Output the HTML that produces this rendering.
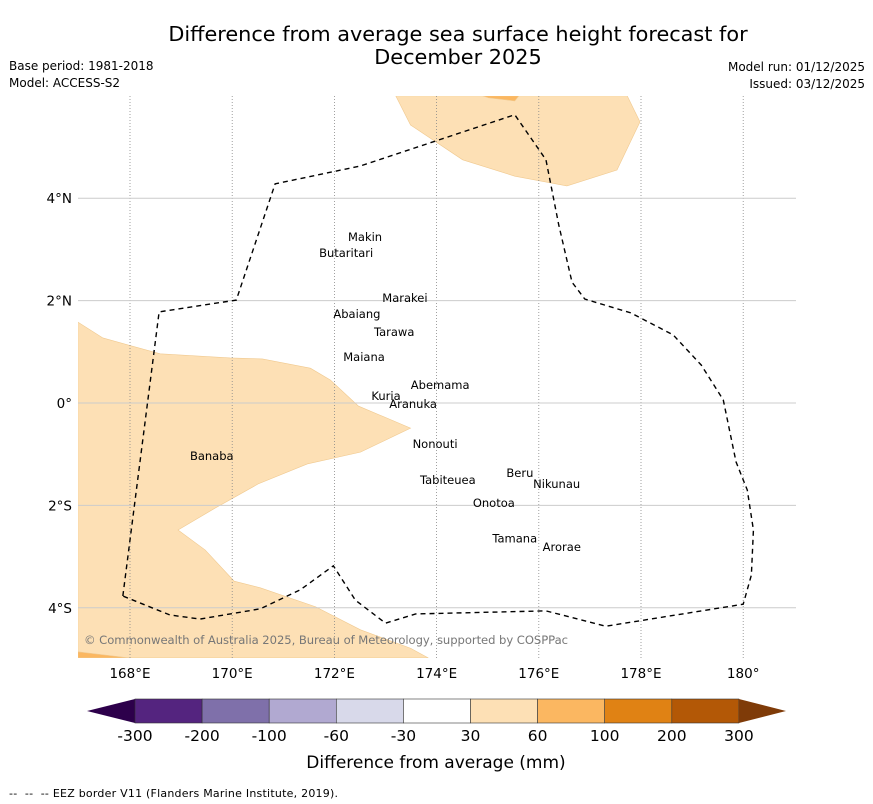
<!DOCTYPE html>
<html><head><meta charset="utf-8"><style>
body{margin:0;background:#fff;width:873px;height:804px;overflow:hidden;font-family:"DejaVu Sans","Liberation Sans",sans-serif}
</style></head><body>
<svg id="c" width="873" height="804" style="position:absolute;left:0;top:0">
<text x="458" y="41" font-size="20.8" text-anchor="middle">Difference from average sea surface height forecast for</text>
<text x="458" y="64" font-size="20.8" text-anchor="middle">December 2025</text>
<text x="9" y="70" font-size="12">Base period: 1981-2018</text>
<text x="9" y="87" font-size="12">Model: ACCESS-S2</text>
<text x="865" y="71" font-size="12" text-anchor="end">Model run: 01/12/2025</text>
<text x="865" y="88" font-size="12" text-anchor="end">Issued: 03/12/2025</text>
<g id="map"></g>
<g id="cbar"></g>
<text x="436" y="768" font-size="17" text-anchor="middle">Difference from average (mm)</text>
<text x="9" y="797" font-size="11" xml:space="preserve" textLength="329">--  --  -- EEZ border V11 (Flanders Marine Institute, 2019).</text>
</svg>
<script>
const lonTicks=[168,170,172,174,176,178,180];
const lonLabels=["168°E","170°E","172°E","174°E","176°E","178°E","180°"];
const latTicks=[4,2,0,-2,-4];
const latLabels=["4°N","2°N","0°","2°S","4°S"];
const eezLon=[167.86,168.57,170.08,170.84,172.51,175.53,176.14,176.39,176.65,176.90,177.80,178.63,179.18,179.61,179.86,180.08,180.20,180.16,180.0,177.31,176.14,173.59,173.0,172.41,171.98,171.33,170.55,169.37,168.78,167.86];
const eezLat=[-3.77,1.78,2.01,4.28,4.63,5.63,4.75,3.48,2.36,2.03,1.76,1.33,0.74,0.06,-1.15,-1.70,-2.48,-3.36,-3.93,-4.36,-4.06,-4.12,-4.30,-3.85,-3.18,-3.65,-4.02,-4.22,-4.14,-3.77];
const westLon=[166.98,167.47,168.59,169.96,170.59,171.53,171.92,172.47,173.49,172.51,171.47,170.51,169.67,168.94,169.47,170.04,170.55,171.63,172.51,173.49,173.84,166.98];
const westLat=[1.58,1.27,0.96,0.88,0.86,0.68,0.45,-0.06,-0.49,-0.96,-1.19,-1.58,-2.05,-2.48,-2.87,-3.48,-3.61,-3.98,-4.43,-4.79,-4.98,-4.98];
const northLon=[173.2,173.49,174.51,175.53,176.55,177.53,177.98,177.73];
const northLat=[6.0,5.43,4.75,4.43,4.24,4.55,5.49,6.0];
const north2Lon=[174.9,175.02,175.53,175.61];
const north2Lat=[6.0,5.96,5.90,6.0];
const swLon=[166.98,168.0,166.98];
const swLat=[-4.86,-4.98,-4.98];
const islandNames=["Makin","Butaritari","Marakei","Abaiang","Tarawa","Maiana","Abemama","Kuria","Aranuka","Nonouti","Beru","Nikunau","Tabiteuea","Onotoa","Tamana","Arorae","Banaba"];
const islandLon=[172.60,172.23,173.38,172.44,173.17,172.58,174.07,173.01,173.54,173.97,175.63,176.35,174.22,175.12,175.53,176.45,169.60];
const islandLat=[3.16,2.85,1.97,1.66,1.31,0.82,0.27,0.06,-0.10,-0.88,-1.45,-1.66,-1.58,-2.03,-2.72,-2.89,-1.11];
const cbLabels=["-300","-200","-100","-60","-30","30","60","100","200","300"];
const cbColors=["#54247f","#7f70aa","#b1a9d1","#d8d9ea","#ffffff","#fde0b5","#fbb761","#e08214","#b35806"];
const NS="http://www.w3.org/2000/svg";
const X0=78,X1=796,Y0=96,Y1=658;
const xs=lon=>130+(lon-168)*51.1;
const ys=lat=>403-lat*51.2;
function mk(tag,attrs,parent){const e=document.createElementNS(NS,tag);for(const k in attrs)e.setAttribute(k,attrs[k]);parent.appendChild(e);return e;}
const map=document.getElementById('map');
const defs=mk('defs',{},map);
const cp=mk('clipPath',{id:'clip'},defs);
mk('rect',{x:X0,y:Y0,width:X1-X0,height:Y1-Y0},cp);
const g=mk('g',{'clip-path':'url(#clip)'},map);
function poly(lo,la,fill,name){const p=mk('polygon',{points:lo.map((v,i)=>xs(v)+','+ys(la[i])).join(' '),fill:fill,stroke:'#f0c98f','stroke-width':0.6},g);

}
poly(westLon,westLat,'#fde0b5','anomaly-region-west');
poly(northLon,northLat,'#fde0b5','anomaly-region-north');
poly(north2Lon,north2Lat,'#fbb761','anomaly-region-north-strong');
poly(swLon,swLat,'#fbb761','anomaly-region-southwest');
lonTicks.forEach((t,i)=>{const l=mk('line',{x1:xs(t),x2:xs(t),y1:Y0,y2:Y1,stroke:'#888','stroke-width':0.8,'stroke-dasharray':'1,2'},g);


const tx=mk('text',{x:xs(t),y:678,'font-size':13.5,'text-anchor':'middle'},map);tx.textContent=lonLabels[i];

});
latTicks.forEach((t,i)=>{const l=mk('line',{x1:X0,x2:X1,y1:ys(t),y2:ys(t),stroke:'#ccc','stroke-width':1},g);


const tx=mk('text',{x:72,y:ys(t)+5,'font-size':13.5,'text-anchor':'end'},map);tx.textContent=latLabels[i];

});
const eez=mk('polyline',{points:eezLon.map((v,i)=>xs(v)+','+ys(eezLat[i])).join(' '),fill:'none',stroke:'#000','stroke-width':1.4,'stroke-dasharray':'5,4'},g);


islandNames.forEach((n,i)=>{const t=mk('text',{x:xs(islandLon[i]),y:ys(islandLat[i]),'font-size':11.5,'text-anchor':'middle'},g);t.textContent=n;

});
const cr=mk('text',{x:84,y:644,'font-size':11.6,fill:'#777',textLength:484},g);cr.textContent="© Commonwealth of Australia 2025, Bureau of Meteorology, supported by COSPPac";


const cb=document.getElementById('cbar');
const CB0=135,CBW=67.1,CY=699,CH=24;
const lt=mk('polygon',{points:`87,${CY+CH/2} ${CB0},${CY} ${CB0},${CY+CH}`,fill:'#2d004b'},cb);


cbColors.forEach((c,i)=>{const r=mk('rect',{x:CB0+i*CBW,y:CY,width:CBW,height:CH,fill:c,stroke:'#333','stroke-width':0.6},cb);

});
const CE=CB0+9*CBW;
const rt=mk('polygon',{points:`${CE},${CY} 786,${CY+CH/2} ${CE},${CY+CH}`,fill:'#7f3b08'},cb);


cbLabels.forEach((s,i)=>{const t=mk('text',{x:CB0+i*CBW,y:741,'font-size':15.5,'text-anchor':'middle'},cb);t.textContent=s;

});
</script>
</body></html>
